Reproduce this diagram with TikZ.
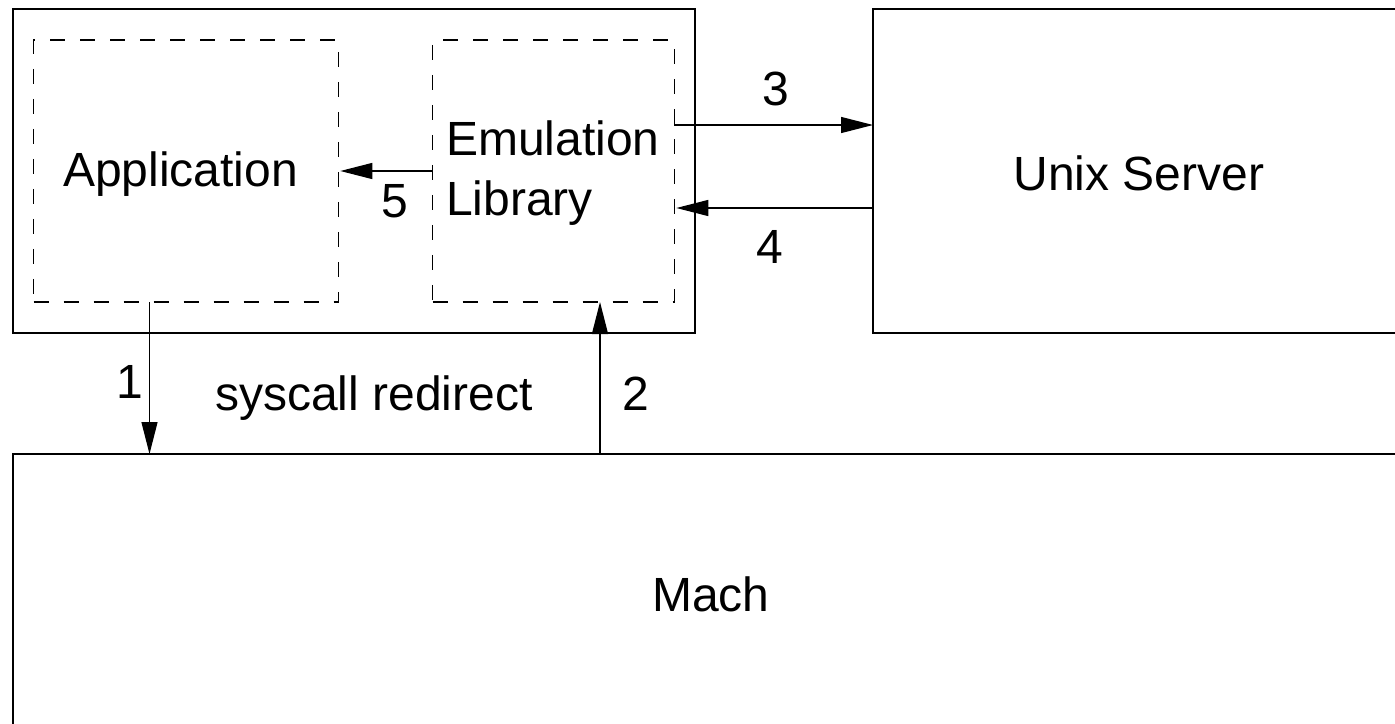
\documentclass[tikz,border=0pt]{standalone}
\usepackage{fontspec}
\setmainfont{Liberation Sans}
\usetikzlibrary{arrows.meta}
\begin{document}
\begin{tikzpicture}[x=1pt,y=-1pt,
  every node/.style={font=\fontsize{48pt}{60pt}\selectfont, inner sep=0pt, outer sep=0pt},
  solidbox/.style={draw, line width=1.7pt, minimum width=#1},
  dashbox/.style={draw, line width=1.3pt, dash pattern=on 15pt off 15pt, minimum width=#1, minimum height=262pt},
  arr/.style={line width=1.3pt, -{Triangle[length=32pt,width=16pt]}},
  lbl/.style={anchor=base}]
\useasboundingbox (0,0) rectangle (1395,723);
\clip (0,0) rectangle (1395,723);
% boxes
\node[solidbox=682pt, minimum height=324pt] (host) at (353.7,171) {};
\node[dashbox=304.6pt] (app) at (186,171) {};
\node[dashbox=241.6pt] (emu) at (553.5,171) {};
\node[solidbox=532pt, minimum height=324pt] (unix) at (1139,171) {};
\node[solidbox=1397pt, minimum height=280pt] (mach) at (711.3,594) {};
% texts
\node[anchor=base] (apptxt) at (180.5,186) {Application};
\node[anchor=base west] (emutxt1) at (446,155) {Emulation};
\node[anchor=base west] (emutxt2) at (446,215) {Library};
\node[anchor=base] (unixtxt) at (1139,190) {Unix Server};
\node[anchor=base] (machtxt) at (711,611) {Mach};
% connectors
\draw[arr] ([yshift=46pt]emu.east) -- ([yshift=46pt]unix.west);
\draw[arr] ([yshift=-37pt]unix.west) -- ([yshift=-37pt,xshift=2pt]emu.east);
\draw[arr] (emu.west) -- ([xshift=2pt]app.east);
\draw[arr] ([xshift=-36.5pt]app.south) -- ([xshift=-36.5pt]app.south |- mach.north);
\draw[arr] ([xshift=46.5pt]emu.south |- mach.north) -- ([xshift=46.5pt]emu.south);
% labels
\node[lbl] (l3) at (776,105) {3};
\node[lbl] (l4) at (770,263) {4};
\node[lbl] (l5) at (395,217) {5};
\node[lbl] (l1) at (130,398) {1};
\node[lbl] (l2) at (636,410) {2};
\node[lbl] (lsys) at (374,410) {syscall redirect};
\end{tikzpicture}
\end{document}
